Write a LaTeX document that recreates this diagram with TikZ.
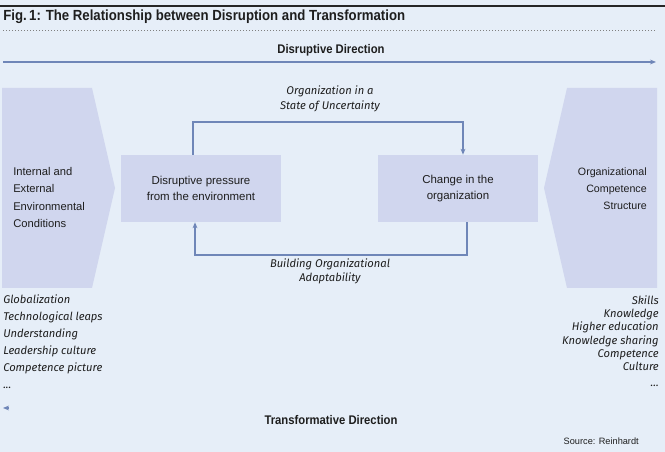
\documentclass[tikz,border=0pt]{standalone}
\usepackage{fontspec}
\setmainfont{Liberation Sans}
\newfontfamily\narrowfont{Liberation Sans}[FakeStretch=0.9]
\newfontfamily\itfont{Fira Sans}
\usetikzlibrary{arrows.meta,shapes.symbols}
\definecolor{bg}{HTML}{E6EEF8}
\definecolor{boxfill}{HTML}{D0D6EE}
\definecolor{linec}{HTML}{6F86B8}
\definecolor{txt}{HTML}{1E1E1E}
\tikzset{
  px/.style={x=0.75pt,y=-0.75pt},
  conn/.style={draw=linec,line width=0.8pt,-{Stealth[length=4.5pt,width=3.6pt]}},
  boxn/.style={fill=boxfill,minimum width=120pt,minimum height=50.25pt,inner sep=0pt,align=center,font=\fontsize{8.6}{11.5}\selectfont,text=txt},
  lbl/.style={font=\itfont\itshape\fontsize{8.4}{11}\selectfont,text=txt,align=center,inner sep=0pt},
  lst/.style={font=\itfont\itshape\fontsize{8.4}{12.8}\selectfont,text=txt,inner sep=0pt},
  hdr/.style={font=\narrowfont\bfseries\fontsize{9.4}{11}\selectfont,text=txt,inner sep=0pt}
}
\begin{document}
\begin{tikzpicture}[px]
\useasboundingbox (0,0) rectangle (665,452);
\fill[bg] (0,0) rectangle (665,452);
% top rule and title
\draw[line width=1.1pt,black!85] (0,6) -- (665,6);
\node[font=\narrowfont\bfseries\fontsize{11}{12}\selectfont,text=txt,anchor=west,inner sep=0pt] (title) at (3,16.5) {Fig.\,1: The Relationship between Disruption and Transformation};
\draw[black!50,line width=0.4pt,dash pattern=on 0.75pt off 1.5pt] (3,30) -- (655,30);
% disruptive direction
\node[hdr] (dd) at (331,50) {Disruptive Direction};
\coordinate (da) at (3,62);
\coordinate (db) at (656,62);
\draw[conn] (da) -- (db);
% left chevron
\fill[boxfill] (2,88) -- (92,88) -- (115,188) -- (92,288) -- (2,288) -- cycle;
\node[font=\fontsize{8.4}{12.8}\selectfont,text=txt,align=left,anchor=north west,inner sep=0pt] (lt) at (13,167.5) {Internal and\\External\\Environmental\\Conditions};
% right chevron
\fill[boxfill] (567,88) -- (657,88) -- (657,288) -- (567,288) -- (544,188) -- cycle;
\node[font=\fontsize{8}{12.6}\selectfont,text=txt,align=right,anchor=north east,inner sep=0pt] (rt) at (647,168) {Organizational\\Competence\\Structure};
% boxes
\node[boxn] (b1) at (201,188.5) {Disruptive pressure\\from the environment};
\node[boxn] (b2) at (458,188.5) {Change in the\\organization};
% connectors
\coordinate (t1) at (193,122);
\coordinate (t2) at (463,122);
\draw[conn] (b1.north -| t1) -- (t1) -- (t2) -- (b2.north -| t2);
\coordinate (u1) at (467,255);
\coordinate (u2) at (195,255);
\draw[conn] (b2.south -| u1) -- (u1) -- (u2) -- (b1.south -| u2);
\node[lbl] (ol) at (330,98.5) {Organization in a\\State of Uncertainty};
\node[lbl] (bl) at (330,271.5) {Building Organizational\\Adaptability};
% lists
\node[lst,anchor=north west,align=left] (ll) at (3,294.5) {Globalization\\Technological leaps\\Understanding\\Leadership culture\\Competence picture\\...};
\node[lst,anchor=north east,align=right,font=\itfont\itshape\fontsize{8.4}{10}\selectfont] (rl) at (659,295) {Skills\\Knowledge\\Higher education\\Knowledge sharing\\Competence\\Culture\\[2pt]...};
% transformative direction
\coordinate (ta) at (9,408);
\coordinate (tb) at (3,408);
\draw[conn] (ta) -- (tb);
\node[hdr] (td) at (331,420) {Transformative Direction};
\node[font=\fontsize{6.9}{8}\selectfont,text=txt,anchor=east,inner sep=0pt] (src) at (639,441) {Source: Reinhardt};
\end{tikzpicture}
\end{document}
